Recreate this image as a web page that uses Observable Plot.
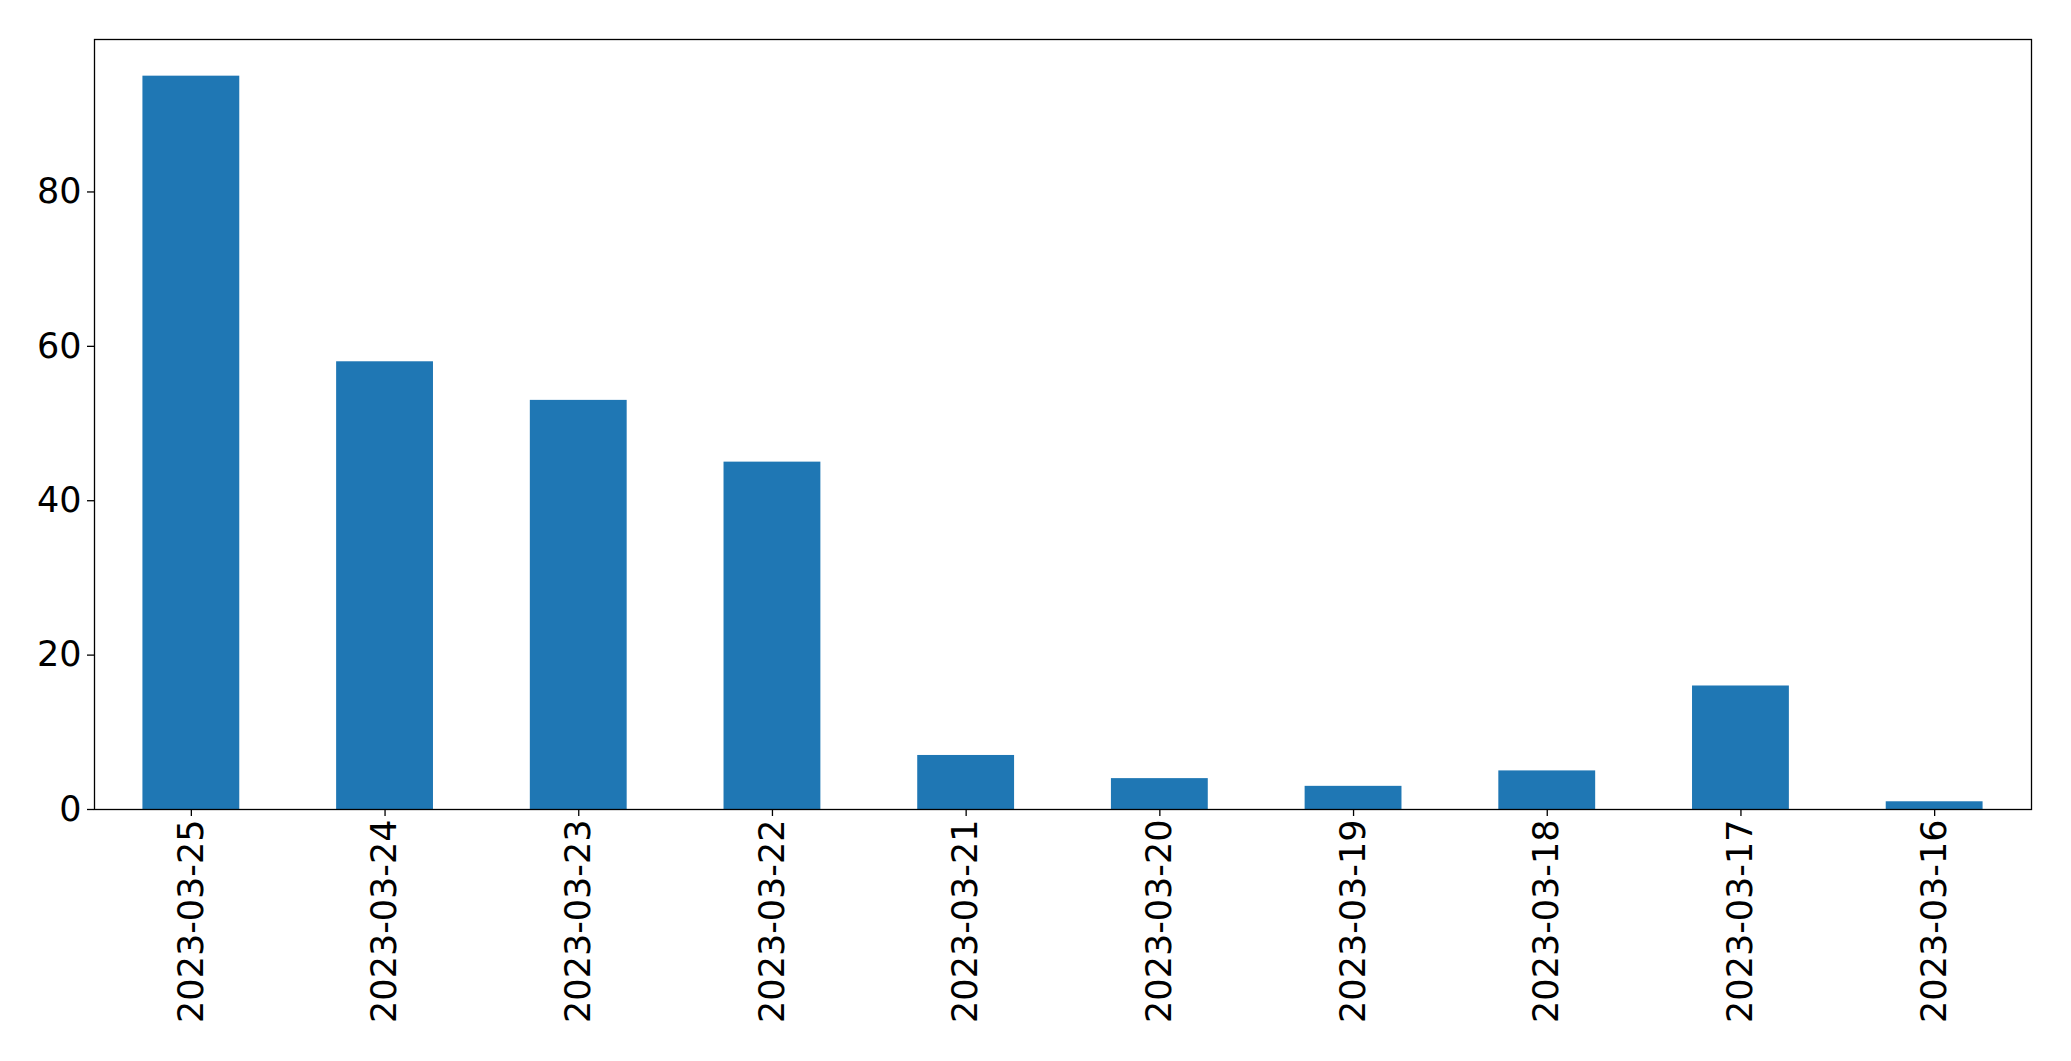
<!DOCTYPE html>
<html>
<head>
<meta charset="utf-8">
<script src="https://cdn.jsdelivr.net/npm/d3@7"></script>
<script src="https://cdn.jsdelivr.net/npm/@observablehq/plot@0.6"></script>
<style>
  html, body { margin: 0; padding: 0; background: #fff; }
  #chart svg { display: block; }
</style>
</head>
<body>
<div id="chart"></div>
<script>
const dates = ["2023-03-25", "2023-03-24", "2023-03-23", "2023-03-22", "2023-03-21",
               "2023-03-20", "2023-03-19", "2023-03-18", "2023-03-17", "2023-03-16"];
const counts = [95, 58, 53, 45, 7, 4, 3, 5, 16, 1];
const yTicks = [0, 20, 40, 60, 80];

const data = dates.map((d, i) => ({date: d, count: counts[i]}));

const chart = Plot.plot({
  width: 2071,
  height: 1061,
  marginLeft: 94,
  marginRight: 40,
  marginTop: 39,
  marginBottom: 252,
  style: {fontFamily: "DejaVu Sans", fontSize: "35px", color: "#000", background: "#fff"},
  x: {type: "band", domain: dates, paddingInner: 0.5, paddingOuter: 0.25, align: 0.5, round: false, label: null},
  y: {domain: [0, 99.75], label: null},
  marks: [
    Plot.barY(data, {x: "date", y: "count", fill: "#1f77b4"}),
    Plot.frame({stroke: "#000", strokeWidth: 1.3}),
    Plot.axisY({ticks: yTicks, tickSize: 7, tickPadding: 6, fontSize: 35, label: null, stroke: "#000", strokeWidth: 1.3}),
    Plot.axisX({tickSize: 7, tickPadding: 3, tickRotate: -90, fontSize: 35, label: null, stroke: "#000", strokeWidth: 1.3})
  ]
});
document.getElementById("chart").appendChild(chart);
</script>
</body>
</html>
